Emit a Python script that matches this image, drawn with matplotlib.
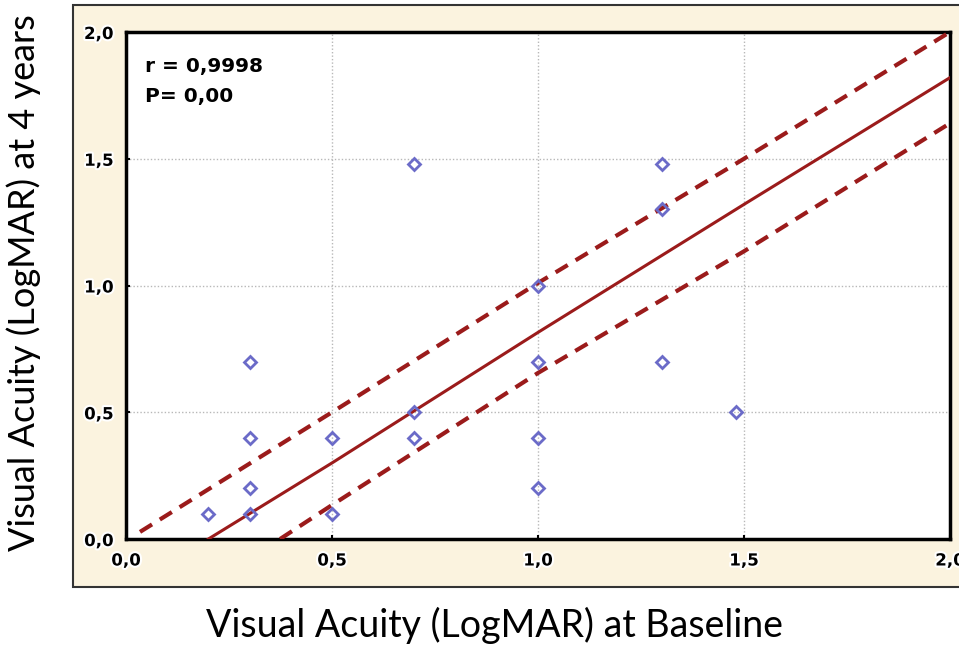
import numpy as np, matplotlib
matplotlib.use("Agg")
import matplotlib.pyplot as plt
import matplotlib.patheffects as pe
from matplotlib.patches import Rectangle

# scatter data (baseline, 4 years) in LogMAR
base = [0.2, 0.3, 0.3, 0.3, 0.3, 0.5, 0.5, 0.7, 0.7, 0.7, 1.0, 1.0, 1.0, 1.0, 1.3, 1.3, 1.3, 1.48]
yr4 = [0.1, 0.1, 0.2, 0.4, 0.7, 0.4, 0.1, 1.48, 0.5, 0.4, 1.0, 0.7, 0.4, 0.2, 1.48, 1.3, 0.7, 0.5]
# regression line and confidence band
fit_x = [0.2, 0.5, 1.0, 1.5, 2.0]
fit_y = [0.0, 0.30, 0.815, 1.32, 1.82]
up_x = [0.034, 0.5, 1.0, 1.5, 2.0]
up_y = [0.028, 0.50, 1.01, 1.50, 2.0]
lo_x = [0.374, 0.5, 1.0, 1.5, 2.0]
lo_y = [0.0, 0.134, 0.655, 1.135, 1.64]
ticks = [0.0, 0.5, 1.0, 1.5, 2.0]
tick_labels = ["0,0", "0,5", "1,0", "1,5", "2,0"]

W, H = 959, 646
fig = plt.figure(figsize=(W/100, H/100), dpi=100)
fig.patches.append(Rectangle((73/W, 1-587/H), 1.0, (587-5)/H, transform=fig.transFigure,
                             facecolor="#fbf3df", edgecolor="#333333", lw=1.5, zorder=-10))
ax = fig.add_axes([126/W, 1-539/H, (950-126)/W, (539-32)/H])
ax.set_facecolor("white")
ax.set_xlim(0, 2); ax.set_ylim(0, 2)
ax.grid(True, color="#b8b8b8", ls=(0, (1, 1.5)), lw=1)
ax.set_xticks(ticks); ax.set_yticks(ticks)
ax.set_xticklabels(tick_labels); ax.set_yticklabels(tick_labels)
ax.tick_params(direction="in", length=3, width=1.5, labelsize=12, pad=9)
halo = [pe.withStroke(linewidth=3, foreground="white")]
for t in ax.get_xticklabels() + ax.get_yticklabels():
    t.set_fontweight("bold"); t.set_path_effects(halo)
for s in ax.spines.values():
    s.set_linewidth(2.5); s.set_color("black")

red = "#9b1b1b"
ax.plot(fit_x, fit_y, color=red, lw=2.2, zorder=3)
ax.plot(up_x, up_y, color=red, lw=3, ls=(0, (3.4, 2.2)), zorder=3)
ax.plot(lo_x, lo_y, color=red, lw=3, ls=(0, (3.4, 2.2)), zorder=3)
ax.plot(base, yr4, ls="none", marker="D", ms=6.5, mfc="none", mec="#6b6bc8", mew=2, zorder=4)

ax.text(0.045, 1.862, "r = 0,9998", fontsize=14.5, fontweight="bold", va="center")
ax.text(0.045, 1.744, "P= 0,00", fontsize=14.5, fontweight="bold", va="center")

fig.text(494/W, 1-625/H, "Visual Acuity (LogMAR) at Baseline", fontsize=27, family="Lato",
         ha="center", va="center")
fig.text(24/W, 1-283/H, "Visual Acuity (LogMAR) at 4 years", fontsize=26, family="Lato",
         ha="center", va="center", rotation=90)
fig.savefig("out.png", dpi=100)
